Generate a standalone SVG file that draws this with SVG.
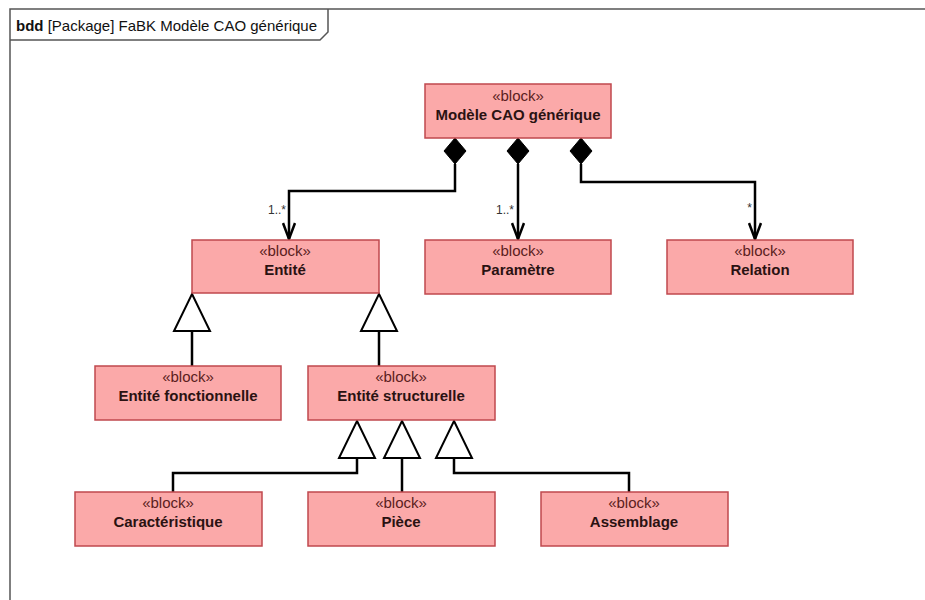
<svg xmlns="http://www.w3.org/2000/svg" width="925" height="600" viewBox="0 0 925 600">
<defs>
<style>
.blk{fill:#fba9a9;stroke:#c0484e;stroke-width:1.5}
.st{font-family:"Liberation Sans",Arial,sans-serif;font-size:15px;fill:#5a2020;text-anchor:middle}
.nm{font-family:"Liberation Sans",Arial,sans-serif;font-size:15px;font-weight:bold;fill:#2a1212;text-anchor:middle}
.ln{fill:none;stroke:#000;stroke-width:2.5}
.gen{fill:#fff;stroke:#000;stroke-width:2}
.dia{fill:#000;stroke:#000;stroke-width:1}
.mul{font-family:"Liberation Sans",Arial,sans-serif;font-size:12px;fill:#333;text-anchor:end}
</style>
<marker id="open" viewBox="0 0 18 14" refX="17" refY="7" markerWidth="18" markerHeight="14" markerUnits="userSpaceOnUse" orient="auto">
<path d="M1,1 L17,7 L1,13" fill="none" stroke="#000" stroke-width="2.5"/>
</marker>
</defs>
<rect width="925" height="600" fill="#fff"/>
<g id="frame">
<path d="M10,600 V9 H925" fill="none" stroke="#555" stroke-width="1.5"/>
<path d="M10,40 H320 L328,32 V9" fill="none" stroke="#555" stroke-width="1.5"/>
<text x="16" y="31" font-family="Liberation Sans,Arial,sans-serif" font-size="15" fill="#111"><tspan font-weight="bold">bdd</tspan> [Package] FaBK Modèle CAO générique</text>
</g>
<g id="connectors">
<path class="ln" d="M455,164 V191 H289 V239" marker-end="url(#open)"/>
<path class="ln" d="M518,164 V239" marker-end="url(#open)"/>
<path class="ln" d="M581,164 V182 H755 V239" marker-end="url(#open)"/>
<polygon class="dia" points="455,138 466,151 455,164 444,151"/>
<polygon class="dia" points="518,138 529,151 518,164 507,151"/>
<polygon class="dia" points="581,138 592,151 581,164 570,151"/>
<text class="mul" x="286" y="214">1..*</text>
<text class="mul" x="514" y="214">1..*</text>
<text class="mul" x="752" y="212">*</text>
<path class="ln" d="M192,331 V366"/>
<polygon class="gen" points="192,294 210,331 174,331"/>
<path class="ln" d="M379,331 V366"/>
<polygon class="gen" points="379,294 397,331 361,331"/>
<path class="ln" d="M357,458 V473 H173 V492"/>
<polygon class="gen" points="357,421 375,458 339,458"/>
<path class="ln" d="M402,458 V492"/>
<polygon class="gen" points="402,421 420,458 384,458"/>
<path class="ln" d="M454,458 V473 H629 V492"/>
<polygon class="gen" points="454,421 472,458 436,458"/>
</g>
<g id="modele">
<rect class="blk" x="425" y="84" width="186" height="54"/>
<text class="st" x="518" y="101">«block»</text>
<text class="nm" x="518" y="120">Modèle CAO générique</text>
</g>
<g id="entite">
<rect class="blk" x="192" y="240" width="187" height="53"/>
<text class="st" x="285" y="256">«block»</text>
<text class="nm" x="285" y="275">Entité</text>
</g>
<g id="parametre">
<rect class="blk" x="425" y="240" width="186" height="54"/>
<text class="st" x="518" y="256">«block»</text>
<text class="nm" x="518" y="275">Paramètre</text>
</g>
<g id="relation">
<rect class="blk" x="667" y="240" width="186" height="54"/>
<text class="st" x="760" y="256">«block»</text>
<text class="nm" x="760" y="275">Relation</text>
</g>
<g id="entite-fonctionnelle">
<rect class="blk" x="95" y="366" width="186" height="54"/>
<text class="st" x="188" y="382">«block»</text>
<text class="nm" x="188" y="401">Entité fonctionnelle</text>
</g>
<g id="entite-structurelle">
<rect class="blk" x="308" y="366" width="187" height="54"/>
<text class="st" x="401" y="382">«block»</text>
<text class="nm" x="401" y="401">Entité structurelle</text>
</g>
<g id="caracteristique">
<rect class="blk" x="75" y="492" width="187" height="54"/>
<text class="st" x="168" y="508">«block»</text>
<text class="nm" x="168" y="527">Caractéristique</text>
</g>
<g id="piece">
<rect class="blk" x="308" y="492" width="187" height="54"/>
<text class="st" x="401" y="508">«block»</text>
<text class="nm" x="401" y="527">Pièce</text>
</g>
<g id="assemblage">
<rect class="blk" x="541" y="492" width="187" height="54"/>
<text class="st" x="634" y="508">«block»</text>
<text class="nm" x="634" y="527">Assemblage</text>
</g>
</svg>
